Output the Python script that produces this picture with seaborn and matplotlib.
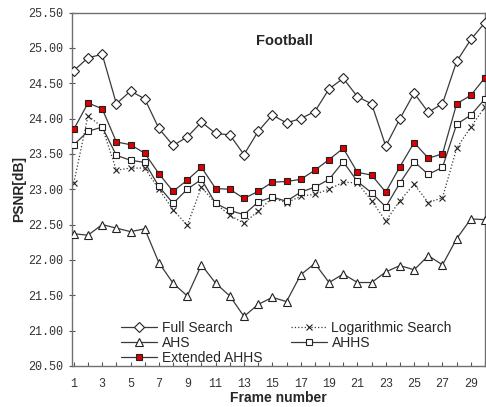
import matplotlib
matplotlib.use("Agg")
import matplotlib.pyplot as plt
from matplotlib.ticker import MultipleLocator, FormatStrFormatter
import seaborn as sns

# PSNR per frame for each motion-search method (Football sequence)
frames = list(range(1, 31))
full_search = [24.68, 24.86, 24.91, 24.21, 24.39, 24.28, 23.86, 23.62, 23.74, 23.95,
               23.79, 23.77, 23.49, 23.82, 24.05, 23.94, 24.00, 24.10, 24.42, 24.57,
               24.31, 24.21, 23.61, 24.00, 24.36, 24.09, 24.21, 24.81, 25.12, 25.36]
log_search = [23.09, 24.04, 23.88, 23.27, 23.30, 23.30, 23.00, 22.71, 22.49, 23.03,
              22.80, 22.63, 22.52, 22.69, 22.88, 22.81, 22.90, 22.93, 23.00, 23.10,
              23.09, 22.84, 22.55, 22.84, 23.07, 22.81, 22.88, 23.58, 23.88, 24.17]
ahs = [22.37, 22.35, 22.50, 22.45, 22.40, 22.44, 21.96, 21.67, 21.49, 21.93,
       21.67, 21.49, 21.20, 21.37, 21.47, 21.41, 21.79, 21.95, 21.68, 21.80,
       21.68, 21.68, 21.83, 21.92, 21.86, 22.06, 21.93, 22.30, 22.58, 22.57]
ahhs = [23.63, 23.82, 23.88, 23.48, 23.41, 23.38, 23.04, 22.80, 23.00, 23.14,
        22.80, 22.70, 22.64, 22.82, 22.89, 22.83, 22.96, 23.03, 23.14, 23.39,
        23.11, 22.95, 22.75, 23.09, 23.39, 23.21, 23.31, 23.92, 24.05, 24.28]
ext_ahhs = [23.85, 24.22, 24.14, 23.67, 23.63, 23.51, 23.22, 22.97, 23.13, 23.31,
            23.01, 23.00, 22.87, 22.97, 23.10, 23.11, 23.14, 23.27, 23.42, 23.58,
            23.24, 23.20, 22.96, 23.32, 23.66, 23.44, 23.50, 24.21, 24.33, 24.58]

title = "Football"
x_label = "Frame number"
y_label = "PSNR[dB]"

sns.set_theme(style="white")
plt.rcParams["font.family"] = ["Liberation Sans", "DejaVu Sans"]

fig = plt.figure(figsize=(4.86, 4.07), dpi=100)
ax = fig.add_axes([0.149, 0.101, 0.849, 0.868])

line_col = "#3a3a3a"
common = dict(ax=ax, errorbar=None, color=line_col, linewidth=0.9,
              markeredgecolor="#222222", markeredgewidth=0.8)

sns.lineplot(x=frames, y=log_search, marker="x", markersize=5, linestyle=":",
             label="Logarithmic Search", zorder=2, **common)
sns.lineplot(x=frames, y=ahhs, marker="s", markersize=5, markerfacecolor="white",
             label="AHHS", zorder=3, **common)
sns.lineplot(x=frames, y=ext_ahhs, marker="s", markersize=5, markerfacecolor="#dd0000",
             label="Extended AHHS", zorder=4, **common)
sns.lineplot(x=frames, y=ahs, marker="^", markersize=6, markerfacecolor="white",
             label="AHS", zorder=3, **common)
sns.lineplot(x=frames, y=full_search, marker="D", markersize=4.6, markerfacecolor="white",
             label="Full Search", zorder=3, **common)

ax.set_xlim(0.9, 30)
ax.set_ylim(20.5, 25.5)
ax.yaxis.set_major_locator(MultipleLocator(0.5))
ax.yaxis.set_major_formatter(FormatStrFormatter("%.2f"))
ax.xaxis.set_major_locator(MultipleLocator(2, offset=1))
ax.xaxis.set_minor_locator(MultipleLocator(1))

tick_font = dict(family="Liberation Mono", size=8.5)
for lab in ax.get_yticklabels() + ax.get_xticklabels():
    lab.set_fontfamily(tick_font["family"])
    lab.set_fontsize(tick_font["size"])
    lab.set_color("#333333")

ax.tick_params(axis="y", which="major", direction="inout", length=5, width=0.8,
               color="#555555", left=True, pad=4)
ax.tick_params(axis="x", which="both", direction="in", length=3, width=0.8,
               color="#555555", bottom=True, pad=9)

for sp in ax.spines.values():
    sp.set_color("#707070")
    sp.set_linewidth(1.0)

ax.set_xlabel(x_label, fontsize=10, fontweight="bold", labelpad=0.5)
ax.set_ylabel(y_label, fontsize=10, fontweight="bold", labelpad=1.8)
ax.text(0.515, 0.919, title, transform=ax.transAxes, ha="center", va="center",
        fontsize=10.5, fontweight="bold")

handles = {h.get_label(): h for h in ax.get_lines()}
order = ["Full Search", "AHS", "Extended AHHS", "Logarithmic Search", "AHHS"]
ax.legend([handles[k] for k in order], order, ncol=2, loc="lower left",
          bbox_to_anchor=(0.115, 0.0), frameon=False, fontsize=10,
          handlelength=2.6, handletextpad=0.35, columnspacing=2.0,
          labelspacing=0.05, borderpad=0.1, borderaxespad=0)

fig.savefig("out.png", dpi=100)
